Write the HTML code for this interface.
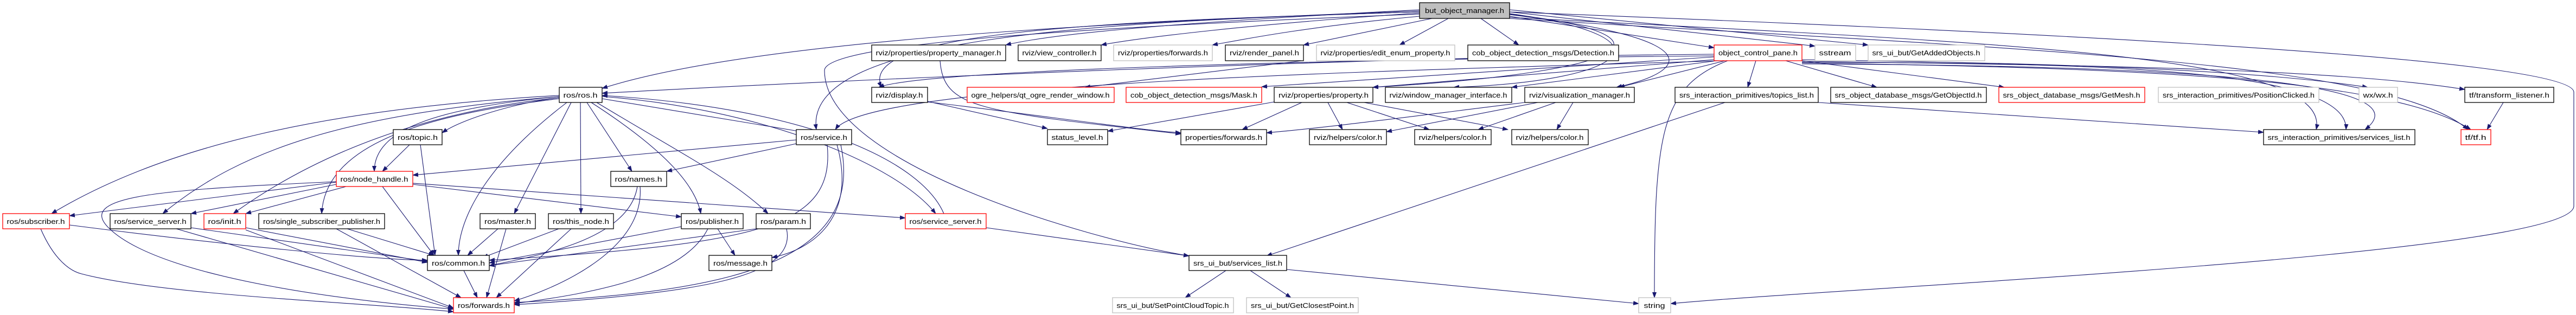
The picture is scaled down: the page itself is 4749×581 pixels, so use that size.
<!DOCTYPE html>
<html><head><meta charset="utf-8"><style>
html,body{margin:0;padding:0;background:#fff;}
svg{display:block;}
text{font-family:"Liberation Sans",sans-serif;font-size:13px;fill:#000;}
.n{fill:#fff;stroke:#000;stroke-width:1.3;}
.r{fill:#fff;stroke:#ff0000;stroke-width:1.3;}
.g{fill:#fff;stroke:#bfbfbf;stroke-width:1.3;}
.e{fill:none;stroke:#191970;stroke-width:1.1;marker-end:url(#a);}
</style></head><body>
<svg width="4749" height="581" viewBox="0 0 4749 581" xmlns="http://www.w3.org/2000/svg">
<defs><marker id="a" markerWidth="11" markerHeight="8" refX="10" refY="4" orient="auto" markerUnits="userSpaceOnUse"><path d="M0,0 L11,4 L0,8 z" fill="#191970"/></marker></defs>
<g>
<!-- BOM edges -->
<path class="e" d="M2617,20 C2100,40 1400,70 1110,163"/>
<path class="e" d="M2617,22 C2000,40 1480,70 1505,239"/>
<path class="e" d="M2617,18 C2200,40 1950,60 1854,83"/>
<path class="e" d="M2617,24 C2300,45 2100,70 2030,83"/>
<path class="e" d="M2617,30 C2400,50 2280,75 2235,83"/>
<path class="e" d="M2640,34 L2403,83"/>
<path class="e" d="M2670,34 L2580,83"/>
<path class="e" d="M2730,34 L2800,83"/>
<path class="e" d="M2783,30 L3160,88"/>
<path class="e" d="M2783,22 L3346,85"/>
<path class="e" d="M2783,18 L3444,83"/>
<path class="e" d="M2617,22 C2000,40 1580,60 1625,161"/>
<path class="e" d="M2617,26 C2000,50 1520,80 1520,130 C1520,300 2000,440 2192,472"/>
<path class="e" d="M2783,25 C3100,70 3000,150 2680,161"/>
<path class="e" d="M2783,27 C3150,70 3120,130 2980,161"/>
<path class="e" d="M2783,26 C3080,60 3060,130 2531,161"/>
<path class="e" d="M2783,32 C3700,80 4300,100 4270,239"/>
<path class="e" d="M2783,34 C3700,90 4400,110 4550,239"/>
<path class="e" d="M2783,22 C3500,50 4745,100 4745,170 L4745,380 C4745,470 3400,530 3080,560"/>
<!-- object_control_pane edges -->
<path class="e" d="M3160,100 C2500,105 1500,150 1110,172"/>
<path class="e" d="M3160,103 C2400,110 1700,130 1620,161"/>
<path class="e" d="M3160,105 L2326,160"/>
<path class="e" d="M3160,110 L2531,161"/>
<path class="e" d="M3165,112 L2787,161"/>
<path class="e" d="M3180,112 L2985,161"/>
<path class="e" d="M3175,112 C2600,130 1600,150 1540,239"/>
<path class="e" d="M3185,112 C3060,160 3050,250 3050,549"/>
<path class="e" d="M3237,112 L3222,161"/>
<path class="e" d="M3292,112 L3460,161"/>
<path class="e" d="M3322,112 L3695,161"/>
<path class="e" d="M3322,110 C3600,115 4100,120 4365,161"/>
<path class="e" d="M3322,113 C3800,120 4300,125 4544,165"/>
<path class="e" d="M3322,115 C3900,115 4330,130 4325,239"/>
<path class="e" d="M3322,118 C3900,120 4490,140 4360,239"/>
<path class="e" d="M3322,116 C3900,125 4400,140 4555,239"/>
<!-- rviz -->
<path class="e" d="M1710,187 L1931,237"/>
<path class="e" d="M1710,188 C1900,210 2100,240 2177,245"/>
<path class="e" d="M1733,112 C1740,200 1800,205 2177,247"/>
<path class="e" d="M2349,188 L2042,242"/>
<path class="e" d="M2400,189 L2290,239"/>
<path class="e" d="M2448,189 L2475,239"/>
<path class="e" d="M2483,189 L2635,239"/>
<path class="e" d="M2515,189 L2780,239"/>
<path class="e" d="M2835,189 L2556,243"/>
<path class="e" d="M2868,189 L2725,239"/>
<path class="e" d="M2900,189 L2870,239"/>
<path class="e" d="M2811,189 C2600,215 2450,235 2335,245"/>
<path class="e" d="M2400,112 L2000,161"/>
<path class="e" d="M4615,189 L4585,239"/>
<path class="e" d="M3352,189 L4173,244"/>
<path class="e" d="M3180,189 L2335,472"/>
<!-- ros.h edges -->
<path class="e" d="M1031,180 C950,190 850,220 815,245"/>
<path class="e" d="M1031,178 C800,200 690,240 690,316"/>
<path class="e" d="M1031,176 C600,200 300,270 95,394"/>
<path class="e" d="M1031,178 C650,210 450,270 300,394"/>
<path class="e" d="M1031,180 C750,210 560,300 430,394"/>
<path class="e" d="M1031,182 C800,210 600,260 593,394"/>
<path class="e" d="M1053,189 L948,394"/>
<path class="e" d="M1070,189 L1071,394"/>
<path class="e" d="M1082,189 L1165,316"/>
<path class="e" d="M1090,189 C1200,260 1280,330 1292,394"/>
<path class="e" d="M1100,189 C1250,280 1350,330 1416,394"/>
<path class="e" d="M1110,182 L1490,245"/>
<path class="e" d="M1045,189 C900,300 845,400 845,471"/>
<path class="e" d="M1110,178 C1400,200 1650,300 1725,394"/>
<path class="e" d="M1740,394 C1700,300 1500,200 1110,176"/>
<!-- others -->
<path class="e" d="M755,267 L705,316"/>
<path class="e" d="M775,267 L802,471"/>
<path class="e" d="M1468,258 L761,323"/>
<path class="e" d="M1468,265 L1229,316"/>
<path class="e" d="M1525,267 C1540,420 1400,450 902,480"/>
<path class="e" d="M1543,267 C1580,400 1500,460 1423,475"/>
<path class="e" d="M1550,267 C1600,500 1300,540 948,558"/>
<path class="e" d="M620,336 L128,398"/>
<path class="e" d="M620,340 L352,394"/>
<path class="e" d="M638,344 L453,394"/>
<path class="e" d="M761,340 L1256,400"/>
<path class="e" d="M761,338 L1669,402"/>
<path class="e" d="M705,344 L800,471"/>
<path class="e" d="M620,335 C300,350 140,360 200,420 C300,520 700,560 836,570"/>
<path class="e" d="M1175,344 C1160,440 1000,470 902,490"/>
<path class="e" d="M1180,344 C1190,470 1000,540 948,555"/>
<path class="e" d="M128,415 C400,450 700,480 788,480"/>
<path class="e" d="M75,422 C100,480 130,500 150,505 C300,545 700,560 836,575"/>
<path class="e" d="M352,420 L788,482"/>
<path class="e" d="M325,422 L836,570"/>
<path class="e" d="M453,420 L788,484"/>
<path class="e" d="M453,424 L836,568"/>
<path class="e" d="M640,422 L800,471"/>
<path class="e" d="M620,422 L850,549"/>
<path class="e" d="M918,422 L862,471"/>
<path class="e" d="M933,422 L897,549"/>
<path class="e" d="M1030,422 L890,475"/>
<path class="e" d="M1053,422 L915,549"/>
<path class="e" d="M1256,418 L902,485"/>
<path class="e" d="M1323,422 L1355,471"/>
<path class="e" d="M1305,422 C1260,510 1100,540 948,560"/>
<path class="e" d="M1394,422 L902,490"/>
<path class="e" d="M1450,422 C1470,510 1300,540 948,562"/>
<path class="e" d="M855,499 L880,549"/>
<path class="e" d="M1818,420 L2192,472"/>
<path class="e" d="M2260,499 L2185,549"/>
<path class="e" d="M2305,499 L2380,549"/>
<path class="e" d="M2372,497 L3021,560"/>
</g>
<g>
<rect x="2617" y="5" width="166" height="29" fill="#bfbfbf" stroke="#000" stroke-width="1.3"/><text x="2700" y="24" text-anchor="middle" textLength="146" lengthAdjust="spacingAndGlyphs">but_object_manager.h</text>

<rect class="n" x="1607" y="83" width="247" height="29"/><text x="1730" y="102" text-anchor="middle" textLength="231" lengthAdjust="spacingAndGlyphs">rviz/properties/property_manager.h</text>
<rect class="n" x="1877" y="83" width="153" height="29"/><text x="1953" y="102" text-anchor="middle" textLength="137" lengthAdjust="spacingAndGlyphs">rviz/view_controller.h</text>
<rect class="g" x="2053" y="83" width="182" height="29"/><text x="2144" y="102" text-anchor="middle" textLength="166" lengthAdjust="spacingAndGlyphs">rviz/properties/forwards.h</text>
<rect class="n" x="2259" y="83" width="144" height="29"/><text x="2331" y="102" text-anchor="middle" textLength="128" lengthAdjust="spacingAndGlyphs">rviz/render_panel.h</text>
<rect class="g" x="2427" y="83" width="255" height="29"/><text x="2554" y="102" text-anchor="middle" textLength="239" lengthAdjust="spacingAndGlyphs">rviz/properties/edit_enum_property.h</text>
<rect class="n" x="2706" y="83" width="278" height="29"/><text x="2845" y="102" text-anchor="middle" textLength="262" lengthAdjust="spacingAndGlyphs">cob_object_detection_msgs/Detection.h</text>
<rect class="r" x="3160" y="83" width="162" height="29"/><text x="3241" y="102" text-anchor="middle" textLength="146" lengthAdjust="spacingAndGlyphs">object_control_pane.h</text>
<rect class="g" x="3346" y="83" width="75" height="29"/><text x="3383" y="102" text-anchor="middle" textLength="59" lengthAdjust="spacingAndGlyphs">sstream</text>
<rect class="g" x="3444" y="83" width="215" height="29"/><text x="3551" y="102" text-anchor="middle" textLength="199" lengthAdjust="spacingAndGlyphs">srs_ui_but/GetAddedObjects.h</text>

<rect class="n" x="1031" y="161" width="79" height="28"/><text x="1070" y="180" text-anchor="middle" textLength="63" lengthAdjust="spacingAndGlyphs">ros/ros.h</text>
<rect class="n" x="1607" y="161" width="103" height="28"/><text x="1658" y="180" text-anchor="middle" textLength="87" lengthAdjust="spacingAndGlyphs">rviz/display.h</text>
<rect class="r" x="1783" y="161" width="271" height="28"/><text x="1918" y="180" text-anchor="middle" textLength="255" lengthAdjust="spacingAndGlyphs">ogre_helpers/qt_ogre_render_window.h</text>
<rect class="r" x="2076" y="161" width="250" height="28"/><text x="2201" y="180" text-anchor="middle" textLength="234" lengthAdjust="spacingAndGlyphs">cob_object_detection_msgs/Mask.h</text>
<rect class="n" x="2349" y="161" width="182" height="28"/><text x="2440" y="180" text-anchor="middle" textLength="166" lengthAdjust="spacingAndGlyphs">rviz/properties/property.h</text>
<rect class="n" x="2554" y="161" width="233" height="28"/><text x="2670" y="180" text-anchor="middle" textLength="217" lengthAdjust="spacingAndGlyphs">rviz/window_manager_interface.h</text>
<rect class="n" x="2811" y="161" width="202" height="28"/><text x="2912" y="180" text-anchor="middle" textLength="186" lengthAdjust="spacingAndGlyphs">rviz/visualization_manager.h</text>
<rect class="n" x="3088" y="161" width="264" height="28"/><text x="3220" y="180" text-anchor="middle" textLength="248" lengthAdjust="spacingAndGlyphs">srs_interaction_primitives/topics_list.h</text>
<rect class="n" x="3375" y="161" width="287" height="28"/><text x="3518" y="180" text-anchor="middle" textLength="271" lengthAdjust="spacingAndGlyphs">srs_object_database_msgs/GetObjectId.h</text>
<rect class="r" x="3685" y="161" width="269" height="28"/><text x="3819" y="180" text-anchor="middle" textLength="253" lengthAdjust="spacingAndGlyphs">srs_object_database_msgs/GetMesh.h</text>
<rect class="g" x="3979" y="161" width="296" height="28"/><text x="4127" y="180" text-anchor="middle" textLength="280" lengthAdjust="spacingAndGlyphs">srs_interaction_primitives/PositionClicked.h</text>
<rect class="g" x="4349" y="161" width="71" height="28"/><text x="4384" y="180" text-anchor="middle" textLength="55" lengthAdjust="spacingAndGlyphs">wx/wx.h</text>
<rect class="n" x="4544" y="161" width="164" height="28"/><text x="4626" y="180" text-anchor="middle" textLength="148" lengthAdjust="spacingAndGlyphs">tf/transform_listener.h</text>

<rect class="n" x="725" y="239" width="90" height="28"/><text x="770" y="258" text-anchor="middle" textLength="74" lengthAdjust="spacingAndGlyphs">ros/topic.h</text>
<rect class="n" x="1468" y="239" width="102" height="28"/><text x="1519" y="258" text-anchor="middle" textLength="86" lengthAdjust="spacingAndGlyphs">ros/service.h</text>
<rect class="n" x="1931" y="239" width="111" height="28"/><text x="1986" y="258" text-anchor="middle" textLength="95" lengthAdjust="spacingAndGlyphs">status_level.h</text>
<rect class="n" x="2177" y="239" width="158" height="28"/><text x="2256" y="258" text-anchor="middle" textLength="142" lengthAdjust="spacingAndGlyphs">properties/forwards.h</text>
<rect class="n" x="2414" y="239" width="142" height="28"/><text x="2485" y="258" text-anchor="middle" textLength="126" lengthAdjust="spacingAndGlyphs">rviz/helpers/color.h</text>
<rect class="n" x="2608" y="239" width="141" height="28"/><text x="2678" y="258" text-anchor="middle" textLength="125" lengthAdjust="spacingAndGlyphs">rviz/helpers/color.h</text>
<rect class="n" x="2787" y="239" width="141" height="28"/><text x="2857" y="258" text-anchor="middle" textLength="125" lengthAdjust="spacingAndGlyphs">rviz/helpers/color.h</text>
<rect class="n" x="4173" y="239" width="279" height="28"/><text x="4312" y="258" text-anchor="middle" textLength="263" lengthAdjust="spacingAndGlyphs">srs_interaction_primitives/services_list.h</text>
<rect class="r" x="4537" y="239" width="55" height="28"/><text x="4564" y="258" text-anchor="middle" textLength="39" lengthAdjust="spacingAndGlyphs">tf/tf.h</text>

<rect class="r" x="620" y="316" width="141" height="28"/><text x="690" y="335" text-anchor="middle" textLength="125" lengthAdjust="spacingAndGlyphs">ros/node_handle.h</text>
<rect class="n" x="1126" y="316" width="103" height="28"/><text x="1177" y="335" text-anchor="middle" textLength="87" lengthAdjust="spacingAndGlyphs">ros/names.h</text>

<rect class="r" x="5" y="394" width="123" height="28"/><text x="66" y="413" text-anchor="middle" textLength="107" lengthAdjust="spacingAndGlyphs">ros/subscriber.h</text>
<rect class="n" x="203" y="394" width="149" height="28"/><text x="277" y="413" text-anchor="middle" textLength="133" lengthAdjust="spacingAndGlyphs">ros/service_server.h</text>
<rect class="r" x="376" y="394" width="77" height="28"/><text x="414" y="413" text-anchor="middle" textLength="61" lengthAdjust="spacingAndGlyphs">ros/init.h</text>
<rect class="n" x="477" y="394" width="232" height="28"/><text x="593" y="413" text-anchor="middle" textLength="216" lengthAdjust="spacingAndGlyphs">ros/single_subscriber_publisher.h</text>
<rect class="n" x="885" y="394" width="102" height="28"/><text x="936" y="413" text-anchor="middle" textLength="86" lengthAdjust="spacingAndGlyphs">ros/master.h</text>
<rect class="n" x="1011" y="394" width="120" height="28"/><text x="1071" y="413" text-anchor="middle" textLength="104" lengthAdjust="spacingAndGlyphs">ros/this_node.h</text>
<rect class="n" x="1256" y="394" width="114" height="28"/><text x="1313" y="413" text-anchor="middle" textLength="98" lengthAdjust="spacingAndGlyphs">ros/publisher.h</text>
<rect class="n" x="1394" y="394" width="100" height="28"/><text x="1444" y="413" text-anchor="middle" textLength="84" lengthAdjust="spacingAndGlyphs">ros/param.h</text>
<rect class="r" x="1669" y="394" width="149" height="28"/><text x="1743" y="413" text-anchor="middle" textLength="133" lengthAdjust="spacingAndGlyphs">ros/service_server.h</text>

<rect class="n" x="788" y="471" width="114" height="28"/><text x="845" y="490" text-anchor="middle" textLength="98" lengthAdjust="spacingAndGlyphs">ros/common.h</text>
<rect class="n" x="1307" y="471" width="116" height="28"/><text x="1365" y="490" text-anchor="middle" textLength="100" lengthAdjust="spacingAndGlyphs">ros/message.h</text>
<rect class="n" x="2192" y="471" width="180" height="28"/><text x="2282" y="490" text-anchor="middle" textLength="164" lengthAdjust="spacingAndGlyphs">srs_ui_but/services_list.h</text>

<rect class="r" x="836" y="549" width="112" height="28"/><text x="892" y="568" text-anchor="middle" textLength="96" lengthAdjust="spacingAndGlyphs">ros/forwards.h</text>
<rect class="g" x="2051" y="549" width="223" height="28"/><text x="2162" y="568" text-anchor="middle" textLength="207" lengthAdjust="spacingAndGlyphs">srs_ui_but/SetPointCloudTopic.h</text>
<rect class="g" x="2298" y="549" width="206" height="28"/><text x="2401" y="568" text-anchor="middle" textLength="190" lengthAdjust="spacingAndGlyphs">srs_ui_but/GetClosestPoint.h</text>
<rect class="g" x="3021" y="549" width="59" height="28"/><text x="3050" y="568" text-anchor="middle" textLength="39" lengthAdjust="spacingAndGlyphs">string</text>
</g>
</svg>
</body></html>
